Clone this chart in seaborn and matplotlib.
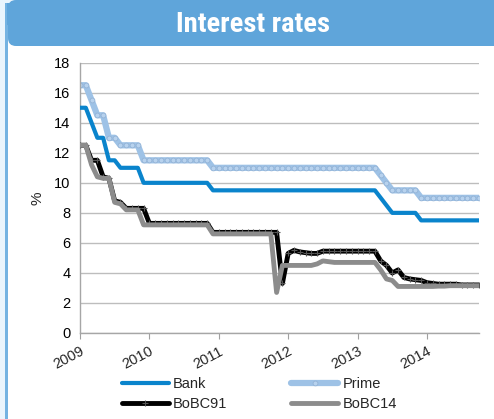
import numpy as np
import pandas as pd
import matplotlib
matplotlib.use("Agg")
import matplotlib.pyplot as plt
from matplotlib.patches import FancyBboxPatch, Rectangle
import seaborn as sns

# Monthly data, Jan 2009 .. Oct 2014
year_labels = ["2009", "2010", "2011", "2012", "2013", "2014"]

bank = [15, 15, 14, 13, 13, 11.5, 11.5, 11, 11, 11, 11,
        10, 10, 10, 10, 10, 10, 10, 10, 10, 10, 10, 10,
        9.5, 9.5, 9.5, 9.5, 9.5, 9.5, 9.5, 9.5, 9.5, 9.5, 9.5, 9.5,
        9.5, 9.5, 9.5, 9.5, 9.5, 9.5, 9.5, 9.5, 9.5, 9.5, 9.5, 9.5,
        9.5, 9.5, 9.5, 9.5, 9.5, 9.0, 8.5, 8, 8, 8, 8, 8,
        7.5, 7.5, 7.5, 7.5, 7.5, 7.5, 7.5, 7.5, 7.5, 7.5, 7.5]

prime = [16.5, 16.5, 15.5, 14.5, 14.5, 13, 13, 12.5, 12.5, 12.5, 12.5,
         11.5, 11.5, 11.5, 11.5, 11.5, 11.5, 11.5, 11.5, 11.5, 11.5, 11.5, 11.5,
         11, 11, 11, 11, 11, 11, 11, 11, 11, 11, 11, 11,
         11, 11, 11, 11, 11, 11, 11, 11, 11, 11, 11, 11,
         11, 11, 11, 11, 11, 10.5, 10, 9.5, 9.5, 9.5, 9.5, 9.5,
         9, 9, 9, 9, 9, 9, 9, 9, 9, 9, 9]

bobc91 = [12.5, 12.5, 11.5, 11.5, 10.4, 10.3, 8.8, 8.7, 8.3, 8.3, 8.3,
          8.3, 7.3, 7.3, 7.3, 7.3, 7.3, 7.3, 7.3, 7.3, 7.3, 7.3, 7.3,
          6.7, 6.7, 6.7, 6.7, 6.7, 6.7, 6.7, 6.7, 6.7, 6.7, 6.7, 6.7,
          3.3, 5.3, 5.5, 5.4, 5.35, 5.3, 5.3, 5.45, 5.45, 5.45, 5.45, 5.45,
          5.45, 5.45, 5.45, 5.45, 5.45, 4.8, 4.5, 4.0, 4.2, 3.7, 3.6, 3.55,
          3.5, 3.35, 3.3, 3.25, 3.25, 3.25, 3.25, 3.2, 3.2, 3.2, 3.2]

bobc14 = [12.5, 12.5, 11.2, 10.4, 10.3, 10.3, 8.7, 8.6, 8.2, 8.2, 8.2,
          7.2, 7.2, 7.2, 7.2, 7.2, 7.2, 7.2, 7.2, 7.2, 7.2, 7.2, 7.2,
          6.6, 6.6, 6.6, 6.6, 6.6, 6.6, 6.6, 6.6, 6.6, 6.6, 6.6, 2.7,
          4.5, 4.5, 4.5, 4.5, 4.5, 4.5, 4.6, 4.8, 4.75, 4.7, 4.7, 4.7,
          4.7, 4.7, 4.7, 4.7, 4.7, 4.2, 3.6, 3.5, 3.1, 3.1, 3.1, 3.1,
          3.1, 3.1, 3.1, 3.12, 3.12, 3.15, 3.15, 3.15, 3.15, 3.15, 3.15]

month = np.arange(len(bank))
df = pd.DataFrame({"month": month, "Bank": bank, "Prime": prime,
                   "BoBC91": bobc91, "BoBC14": bobc14})

sns.set_theme(style="white")
plt.rcParams['font.family'] = ['Liberation Sans', 'DejaVu Sans']

W, H = 494, 419
fig = plt.figure(figsize=(W / 100, H / 100), dpi=100)
fig.patch.set_facecolor("white")

# background frame
fig.add_artist(Rectangle((0, 0), 1, 1, transform=fig.transFigure,
                         facecolor="#EAF5FD", edgecolor="none", zorder=-10))
fig.add_artist(Rectangle((8/W, 0), 1, 1, transform=fig.transFigure,
                         facecolor="white", edgecolor="none", zorder=-9))
fig.add_artist(Rectangle((5/W, 0), 2.5/W, 1, transform=fig.transFigure,
                         facecolor="#74B3E2", edgecolor="none", zorder=-8))
fig.add_artist(Rectangle((0, 1 - 3/H), 1, 3/H, transform=fig.transFigure,
                         facecolor="#EAF5FD", edgecolor="none", zorder=-7))
# banner: rounded lower-left corner, square top
pad = 8 / W
banner = FancyBboxPatch((8/W + pad, 1 - 46/H + pad * W / H), 1.2, 30/H,
                        boxstyle="round,pad=%f,rounding_size=%f" % (pad, pad),
                        transform=fig.transFigure, facecolor="#5FA5DA",
                        edgecolor="none", zorder=-6, mutation_aspect=W / H)
fig.add_artist(banner)
fig.add_artist(Rectangle((7/W, 1 - 25/H), 1, 22/H, transform=fig.transFigure,
                         facecolor="#5FA5DA", edgecolor="none", zorder=-5))
fig.text(253/W, 1 - 25/H, "Interest rates", color="white",
         fontsize=20.5, fontweight="bold", ha="center", va="center",
         family=["Roboto Condensed", "Roboto", "DejaVu Sans"], fontstretch="condensed")

ax = fig.add_axes([80/W, 1 - 333/H, 399/W, (333 - 62.7)/H])

sns.lineplot(data=df, x="month", y="Prime", ax=ax, color="#9EC2E6", lw=4.5,
             marker="o", markersize=3.5, markerfacecolor="#B7D2EE",
             markeredgecolor="#8FAFD3", markeredgewidth=0.5, label="Prime", zorder=2)
sns.lineplot(data=df, x="month", y="Bank", ax=ax, color="#0A84CC", lw=3,
             label="Bank", zorder=3)
sns.lineplot(data=df, x="month", y="BoBC91", ax=ax, color="black", lw=3.5,
             marker="+", markersize=4, markeredgecolor="#555555",
             markeredgewidth=0.8, label="BoBC91", zorder=4)
sns.lineplot(data=df, x="month", y="BoBC14", ax=ax, color="#8C8C8C", lw=3.5,
             label="BoBC14", zorder=5)

ax.set_xlim(0, len(bank) - 1)
ax.set_ylim(0, 18)
ax.set_yticks(range(0, 19, 2))
ax.set_xticks(np.arange(0, 72, 12))
ax.set_xticklabels(year_labels, rotation=28, ha="right", rotation_mode="anchor")
ax.tick_params(axis="y", labelsize=10.5, length=0, pad=7, colors="black")
ax.tick_params(axis="x", labelsize=10.5, length=4, width=0.8, color="#A0A0A0",
               direction="out", bottom=True, pad=4)
ax.yaxis.grid(True, color="#BDBDBD", lw=1)
ax.xaxis.grid(False)
ax.set_xlabel("")
ax.set_ylabel("%", fontsize=11, labelpad=7)
for s in ["top", "right"]:
    ax.spines[s].set_visible(False)
for s in ["left", "bottom"]:
    ax.spines[s].set_color("#A6A6A6")
    ax.spines[s].set_linewidth(1)

handles, labels = ax.get_legend_handles_labels()
order = ["Bank", "BoBC91", "Prime", "BoBC14"]  # column-wise fill
hmap = dict(zip(labels, handles))
ax.get_legend().remove()
fig.legend([hmap[k] for k in order], order, ncol=2, loc="lower left",
           bbox_to_anchor=(116/W, 2/H), frameon=False, fontsize=10.5,
           handlelength=3.2, handletextpad=0.3, columnspacing=4.4,
           labelspacing=0.45, borderaxespad=0)

fig.savefig("out.png", dpi=100)
